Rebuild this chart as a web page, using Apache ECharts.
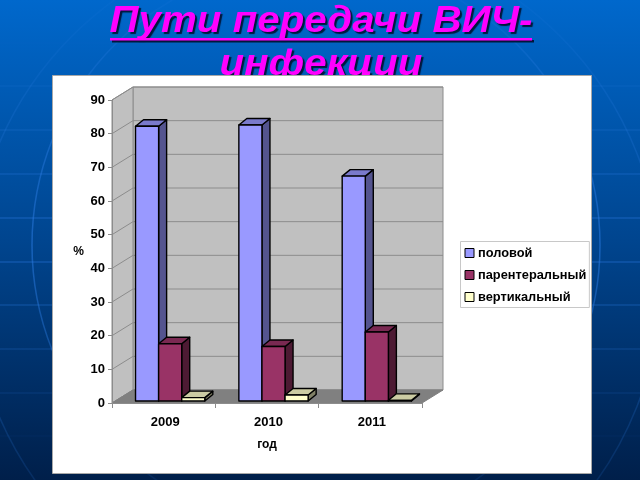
<!DOCTYPE html>
<html><head><meta charset="utf-8">
<style>html,body{margin:0;padding:0;background:#003c80}#c{width:640px;height:480px}</style>
<script src="https://cdn.jsdelivr.net/npm/echarts@6/dist/echarts.min.js"></script>
</head><body><div id="c"></div>
<script>
const categories = ['2009', '2010', '2011'];
const polovoy = [81.6, 82, 66.8];
const parenteralny = [17, 16.2, 20.5];
const vertikalny = [1, 1.8, 0.2];
const yTicks = [0, 10, 20, 30, 40, 50, 60, 70, 80, 90];
const titleText = 'Пути передачи ВИЧ-\nинфекции';

const FONT = '"Liberation Sans", Arial, sans-serif';
const WALL_DX = 21, WALL_DY = -13;
const BAR_DX = 8, BAR_DY = -6.5, BAR_LIFT = 2, BAR_W_FRAC = 0.2235, BAR_SHIFT = 6.5;

function renderWalls(params, api) {
  const cs = params.coordSys;
  const x0 = cs.x, x1 = cs.x + cs.width, yb = cs.y + cs.height, yt = cs.y;
  const wallStyle = { fill: '#c0c0c0', stroke: '#8c8c8c', lineWidth: 1 };
  const children = [
    { type: 'polygon', shape: { points: [[x0 + WALL_DX, yb + WALL_DY], [x1 + WALL_DX, yb + WALL_DY], [x1 + WALL_DX, yt + WALL_DY], [x0 + WALL_DX, yt + WALL_DY]] }, style: wallStyle },
    { type: 'polygon', shape: { points: [[x0, yb], [x0 + WALL_DX, yb + WALL_DY], [x0 + WALL_DX, yt + WALL_DY], [x0, yt]] }, style: wallStyle },
  ];
  yTicks.forEach(function (t) {
    const y = api.coord([0, t])[1];
    children.push({ type: 'polyline', shape: { points: [[x0, y], [x0 + WALL_DX, y + WALL_DY], [x1 + WALL_DX, y + WALL_DY]] }, style: { fill: 'none', stroke: '#8c8c8c', lineWidth: 1 } });
  });
  children.push({ type: 'polygon', shape: { points: [[x0, yb], [x1, yb], [x1 + WALL_DX, yb + WALL_DY], [x0 + WALL_DX, yb + WALL_DY]] }, style: { fill: '#808080', stroke: '#808080', lineWidth: 1 } });
  return { type: 'group', children: children };
}

function barRenderer(slot, front, side, top) {
  return function (params, api) {
    const band = api.size([1, 0])[0];
    const w = band * BAR_W_FRAC;
    const c = api.coord([api.value(0), 0]);
    const tp = api.coord([api.value(0), api.value(1)]);
    const xl = c[0] + BAR_SHIFT + (slot - 1.5) * w, xr = xl + w;
    const yb = c[1] - BAR_LIFT, yt = tp[1] - BAR_LIFT;
    const edge = { stroke: '#000', lineWidth: 1.4, lineJoin: 'round' };
    return { type: 'group', children: [
      { type: 'polygon', shape: { points: [[xr, yb], [xr + BAR_DX, yb + BAR_DY], [xr + BAR_DX, yt + BAR_DY], [xr, yt]] }, style: Object.assign({ fill: side }, edge) },
      { type: 'polygon', shape: { points: [[xl, yt], [xr, yt], [xr + BAR_DX, yt + BAR_DY], [xl + BAR_DX, yt + BAR_DY]] }, style: Object.assign({ fill: top }, edge) },
      { type: 'rect', shape: { x: xl, y: yt, width: w, height: yb - yt }, style: Object.assign({ fill: front }, edge) },
    ] };
  };
}

function pairs(vals) { return vals.map(function (v, i) { return [i, v]; }); }

// Slide background ornaments
function fade(a) {
  return { type: 'linear', x: 0, y: 0, x2: 0, y2: 1, colorStops: [
    { offset: 0, color: 'rgba(42,122,224,0)' }, { offset: 0.25, color: 'rgba(42,122,224,' + a * 0.7 + ')' },
    { offset: 0.5, color: 'rgba(42,122,224,' + a + ')' }, { offset: 0.75, color: 'rgba(42,122,224,' + a * 0.6 + ')' },
    { offset: 1, color: 'rgba(42,122,224,0)' }] };
}
const deco = [];
[43, 86, 130, 174, 218, 262, 305, 349, 393, 436].forEach(function (y) {
  const k = Math.max(0.1, 1 - Math.abs(y - 240) / 220);
  deco.push({ type: 'line', z: 0, silent: true, shape: { x1: 0, y1: y, x2: 640, y2: y }, style: { stroke: '#2a7ae0', opacity: 0.65 * k, lineWidth: 1 } });
});
deco.push({ type: 'circle', z: 0, silent: true, shape: { cx: 316, cy: 245, r: 284 }, style: { fill: 'none', stroke: fade(0.55), lineWidth: 1.5 } });
deco.push({ type: 'circle', z: 0, silent: true, shape: { cx: 316, cy: 280, r: 345 }, style: { fill: 'none', stroke: fade(0.3), lineWidth: 1.5 } });
deco.push({ type: 'text', z: 1, silent: true, x: 321, y: 1, scaleX: 1.12, style: {
  text: titleText, x: 0, y: 0, align: 'center', verticalAlign: 'top', fill: '#ff00ff',
  font: 'italic bold 36px "Liberation Sans", Arial, sans-serif', lineHeight: 43,
  textShadowColor: '#00183c', textShadowOffsetX: 2, textShadowOffsetY: 2, textShadowBlur: 1 } });
deco.push({ type: 'rect', z: 1, silent: true, shape: { x: 110, y: 38, width: 422, height: 2.5 }, style: { fill: '#ff00ff', shadowColor: '#00183c', shadowOffsetX: 2, shadowOffsetY: 2, shadowBlur: 0 } });
deco.push({ type: 'rect', z: 2, silent: true, shape: { x: 52.5, y: 75.5, width: 539, height: 398 }, style: { fill: '#fff', stroke: '#a8a8a8', lineWidth: 1 } });

const chart = echarts.init(document.getElementById('c'), null, { renderer: 'canvas', width: 640, height: 480 });
chart.setOption({
  animation: false,
  backgroundColor: { type: 'linear', x: 0, y: 0, x2: 0, y2: 1, colorStops: [
    { offset: 0, color: '#0068cc' }, { offset: 0.5, color: '#00458f' }, { offset: 1, color: '#001f4a' }] },
  graphic: { elements: deco },
  grid: { left: 112, right: 218, top: 100, bottom: 77, containLabel: false },
  xAxis: {
    type: 'category', data: categories, z: 4,
    name: 'год', nameLocation: 'middle', nameGap: 36,
    nameTextStyle: { color: '#000', fontFamily: FONT, fontSize: 12, fontWeight: 'bold' },
    axisLine: { lineStyle: { color: '#8c8c8c' } },
    axisTick: { show: true, alignWithLabel: false, length: 5, lineStyle: { color: '#8c8c8c' } },
    axisLabel: { color: '#000', fontFamily: FONT, fontSize: 13, fontWeight: 'bold', margin: 13, padding: [0, 0, 0, 3] },
    splitLine: { show: false }
  },
  yAxis: {
    type: 'value', min: 0, max: 90, interval: 10, z: 4,
    name: '%', nameLocation: 'middle', nameRotate: 0, nameGap: 28,
    nameTextStyle: { color: '#000', fontFamily: FONT, fontSize: 12, fontWeight: 'bold' },
    axisLine: { show: true, lineStyle: { color: '#8c8c8c' } },
    axisTick: { show: true, length: 4, lineStyle: { color: '#8c8c8c' } },
    axisLabel: { color: '#000', fontFamily: FONT, fontSize: 13, fontWeight: 'bold', margin: 7 },
    splitLine: { show: false }
  },
  legend: {
    z: 6, orient: 'vertical', left: 460.5, top: 241.5, icon: 'rect',
    data: ['половой', 'парентеральный', 'вертикальный'],
    itemWidth: 9, itemHeight: 9, itemGap: 9,
    padding: [5, 3, 4, 4], backgroundColor: '#fff', borderColor: '#c8c8c8', borderWidth: 1,
    selectedMode: false,
    itemStyle: { borderColor: '#000', borderWidth: 1 },
    textStyle: { color: '#000', fontFamily: FONT, fontSize: 12.8, fontWeight: 'bold', padding: [0, 0, 0, -1] }
  },
  tooltip: { show: false },
  series: [
    { type: 'custom', name: 'стенки', z: 3, silent: true, data: [[0, 0]], encode: { x: 0, y: 1 }, renderItem: renderWalls },
    { type: 'custom', name: 'половой', z: 5, data: pairs(polovoy), encode: { x: 0, y: 1 }, itemStyle: { color: '#9999ff' }, renderItem: barRenderer(0, '#9999ff', '#54548f', '#7a7acc') },
    { type: 'custom', name: 'парентеральный', z: 5, data: pairs(parenteralny), encode: { x: 0, y: 1 }, itemStyle: { color: '#993366' }, renderItem: barRenderer(1, '#993366', '#4d1a33', '#7a2952') },
    { type: 'custom', name: 'вертикальный', z: 5, data: pairs(vertikalny), encode: { x: 0, y: 1 }, itemStyle: { color: '#ffffcc' }, renderItem: barRenderer(2, '#ffffcc', '#808066', '#cccca3') }
  ]
});
</script></body></html>
